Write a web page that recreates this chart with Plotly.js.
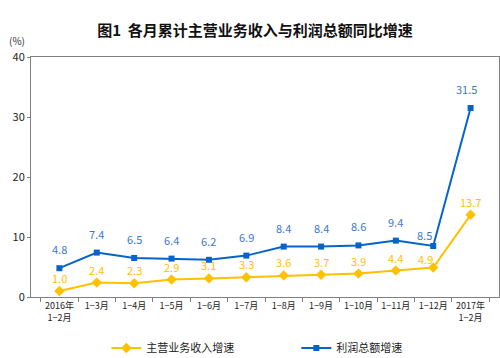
<!DOCTYPE html>
<html><head><meta charset="utf-8">
<script src="https://cdn.plot.ly/plotly-3.0.1.min.js"></script>
<style>html,body{margin:0;padding:0;background:#fff}#c{width:500px;height:358px}</style>
</head><body><div id="c"></div>
<script>
const categories = ["2016年<br>1−2月","1−3月","1−4月","1−5月","1−6月","1−7月","1−8月","1−9月","1−10月","1−11月","1−12月","2017年<br>1−2月"];
const revenue = [1.0,2.4,2.3,2.9,3.1,3.3,3.6,3.7,3.9,4.4,4.9,13.7];
const profit = [4.8,7.4,6.5,6.4,6.2,6.9,8.4,8.4,8.6,9.4,8.5,31.5];
const yTicks = [0,10,20,30,40];

const gold = "#FFC000", blue = "#0563C9";
const font = "Noto Sans CJK SC, sans-serif";

const traces = [
  {x: categories, y: revenue, name: "主营业务收入增速", mode: "lines+markers", type: "scatter",
   line: {color: gold, width: 2}, marker: {symbol: "diamond", size: 8, color: gold}},
  {x: categories, y: profit, name: "利润总额增速", mode: "lines+markers", type: "scatter",
   line: {color: blue, width: 2}, marker: {symbol: "square", size: 6, color: blue}}
];

const n = categories.length;
const annotations = [];
revenue.forEach((v, i) => annotations.push({x: categories[i], y: v, text: v.toFixed(1), showarrow: false,
  yshift: i === n - 2 ? 9 : 13, xshift: i === n - 2 ? -8 : 0,
  font: {family: font, size: 11, color: "#FFC000"}}));
profit.forEach((v, i) => annotations.push({x: categories[i], y: v, text: v.toFixed(1), showarrow: false,
  yshift: i === n - 2 ? 11 : 19, xshift: i === n - 2 ? -9 : (i === n - 1 ? -4 : 0),
  font: {family: font, size: 11, color: "#3A78D0"}}));
annotations.push({xref: "paper", yref: "paper", x: 0, y: 1, xshift: -14, yshift: 7, xanchor: "center", yanchor: "bottom",
  text: "(%)", showarrow: false, font: {family: font, size: 10, color: "#333"}});

const layout = {
  width: 500, height: 358,
  margin: {l: 31, r: 1, t: 57, b: 61, autoexpand: false},
  paper_bgcolor: "#fff", plot_bgcolor: "#fff",
  title: {text: "图1  各月累计主营业务收入与利润总额同比增速", x: 0.51, xanchor: "center", y: 0.915, yanchor: "middle",
    font: {family: font, size: 15, color: "#111", weight: "bold"}},
  xaxis: {type: "category", showline: true, mirror: true, linecolor: "#808080", linewidth: 1,
    ticks: "outside", tickson: "boundaries", ticklen: 4, tickcolor: "#808080", tickangle: 0,
    showgrid: false, tickfont: {family: font, size: 9, color: "#222"}, fixedrange: true},
  yaxis: {range: [0, 40], tickvals: yTicks, showline: true, mirror: true, linecolor: "#808080", linewidth: 1,
    ticks: "outside", ticklen: 3, tickcolor: "#808080", showgrid: false, zeroline: false,
    tickfont: {family: font, size: 11, color: "#222"}},
  showlegend: true,
  legend: {orientation: "h", x: 0.161, xanchor: "left", y: -0.2125, yanchor: "middle",
    font: {family: font, size: 11, color: "#222"}, itemwidth: 30, entrywidth: 145},
  annotations: annotations
};
Plotly.newPlot("c", traces, layout, {displayModeBar: false, staticPlot: true});
</script></body></html>
